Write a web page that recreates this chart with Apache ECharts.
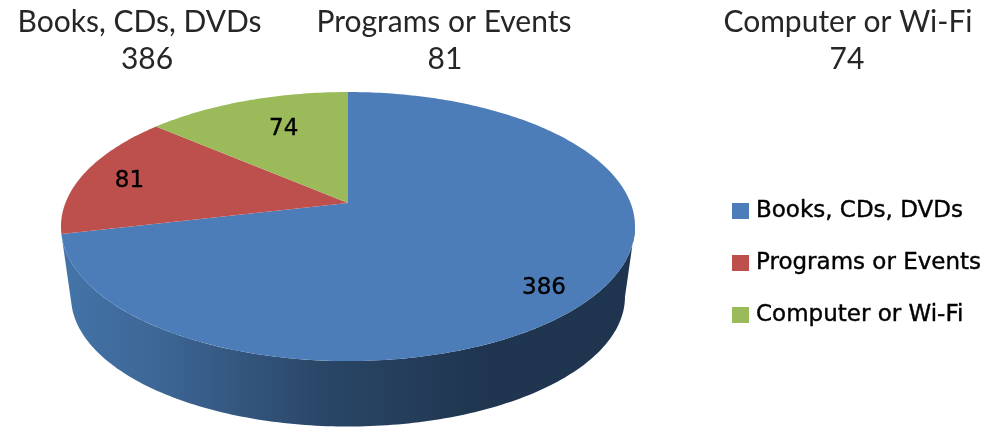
<!DOCTYPE html>
<html><head><meta charset="utf-8">
<style>html,body{margin:0;padding:0;background:#fff}#c{width:987px;height:430px}</style>
<script src="https://cdn.jsdelivr.net/npm/echarts@6/dist/echarts.min.js"></script>
</head><body><div id="c"></div>
<script>
const categories = ['Books, CDs, DVDs', 'Programs or Events', 'Computer or Wi-Fi'];
const values = [386, 81, 74];
const colors = ['#4d7db9', '#bd504d', '#9bba59'];

const FONT = '"DejaVu Sans",sans-serif';
const HEAD_FONT = 'Lato,sans-serif';
const total = values.reduce((a, b) => a + b, 0);
const starts = values.map((_, i) => values.slice(0, i).reduce((a, b) => a + b, 0) / total * 2 * Math.PI);
const ends = values.map((_, i) => values.slice(0, i + 1).reduce((a, b) => a + b, 0) / total * 2 * Math.PI);

const cx = 348, cy = 203, R = 282.6, Ry = 130.4, k = 0.175;
const project = (a, f, s, dy) => {
  const u = f * Math.sin(a), v = f * Math.cos(a), d = 1 + k * v;
  return [cx + s * R * u / d, cy + dy - s * Ry * v / d];
};
const arc = (a0, a1, s, dy) => {
  const n = Math.max(4, Math.ceil((a1 - a0) * 60)), pts = [];
  for (let i = 0; i <= n; i++) pts.push(project(a0 + (a1 - a0) * i / n, 1, s, dy));
  return pts;
};
const labelRadius = [0.83, 0.82, 0.68];
const labelNudge = [[-6, 11], [-1, 3], [8, -1]];

const sideSeries = {
  type: 'custom', coordinateSystem: 'none', silent: true, z: 1,
  data: [[values[0]]],
  renderItem() {
    const a0 = Math.PI * 0.556, a1 = ends[0];
    const top = arc(a0, a1, 1, 0), bottom = arc(a0, a1, 0.965, 71).reverse();
    return {
      type: 'polygon',
      shape: { points: top.concat(bottom) },
      style: {
        fill: { type: 'linear', x: 1, y: 0, x2: 0, y2: 0, colorStops: [
          { offset: 0, color: '#1f344e' }, { offset: 0.28, color: '#203650' },
          { offset: 0.55, color: '#2a4768' }, { offset: 0.82, color: '#3c6594' },
          { offset: 1, color: '#4474a9' } ] }
      }
    };
  }
};
const sliceSeries = categories.map((name, i) => ({
  type: 'custom', name, coordinateSystem: 'none', silent: true, z: 2,
  itemStyle: { color: colors[i] },
  data: [[values[i]]],
  renderItem() {
    const mid = (starts[i] + ends[i]) / 2;
    const p = project(mid, labelRadius[i], 1, 0);
    return {
      type: 'group',
      children: [
        { type: 'polygon', shape: { points: [[cx, cy]].concat(arc(starts[i], ends[i], 1, 0)) },
          style: { fill: colors[i] } },
        { type: 'text', z2: 10,
          style: { text: String(values[i]), x: p[0] + labelNudge[i][0], y: p[1] + labelNudge[i][1],
            align: 'center', verticalAlign: 'middle', fill: '#000', stroke: '#000', lineWidth: 0.4, font: '23px ' + FONT } }
      ]
    };
  }
}));

const topLabelX = [[139.5, 147], [444, 445], [848, 847]];
const headText = [];
categories.forEach((name, i) => {
  headText.push({ type: 'text', style: { text: name, x: topLabelX[i][0], y: 22, align: 'center', verticalAlign: 'middle', fill: '#262626', font: '30px ' + HEAD_FONT } });
  headText.push({ type: 'text', style: { text: String(values[i]), x: topLabelX[i][1], y: 59, align: 'center', verticalAlign: 'middle', fill: '#262626', font: '30px ' + HEAD_FONT } });
});

const chart = echarts.init(document.getElementById('c'), null, { renderer: 'canvas' });
chart.setOption({
  animation: false,
  backgroundColor: '#fff',
  graphic: headText,
  legend: {
    data: categories, orient: 'vertical', left: 727, top: 192, itemWidth: 17, itemHeight: 16,
    itemGap: 24, icon: 'rect', selectedMode: false,
    textStyle: { fontFamily: FONT, fontSize: 23, color: '#000', padding: [0, 0, 0, 2], lineHeight: 28, textBorderColor: '#000', textBorderWidth: 0.4 }
  },
  series: [sideSeries].concat(sliceSeries)
});
</script></body></html>
